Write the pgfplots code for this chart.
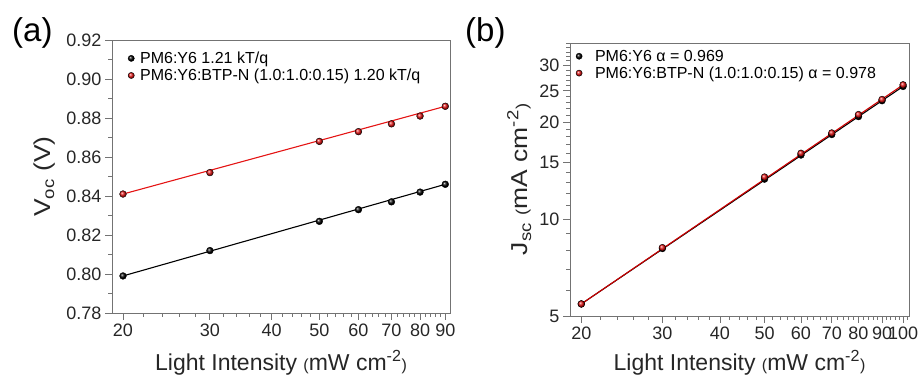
\documentclass[border=0pt]{standalone}
\usepackage{fontspec}
\setmainfont{Liberation Sans}
\usepackage{pgfplots}
\pgfplotsset{compat=1.18}
\definecolor{myred}{RGB}{228,20,20}
\definecolor{axgray}{RGB}{115,115,115}
\newcommand{\smp}[1]{{\fontsize{16}{16}\selectfont #1}}
\begin{document}
\begin{tikzpicture}[x=1pt,y=1pt]
\useasboundingbox (0,0) rectangle (918,379);
\pgfplotsset{
 common/.style={
  scale only axis,
  axis line style={axgray, line width=0.9pt},
  tick style={axgray, line width=0.8pt},
  tick align=outside,
  major tick length=7pt,
  minor tick length=4pt,
  xtick pos=left, ytick pos=left,
  tick label style={font=\fontsize{18}{18}\selectfont, text=black!85},
  label style={font=\fontsize{23}{23}\selectfont, text=black!85},
  legend style={draw=none, fill=none, font=\fontsize{16}{16}\selectfont, anchor=north west, row sep=0pt},
  legend cell align=left,
 }
}
\node[anchor=west, inner sep=0pt] at (12,346) {\fontsize{33}{33}\selectfont (a)};
\node[anchor=west, inner sep=0pt] at (465,346) {\fontsize{33}{33}\selectfont (b)};

\begin{axis}[common, at={(112pt,66pt)}, anchor=south west, width=338pt, height=273pt,
 xmode=log, xmin=19, xmax=92, ymin=0.78, ymax=0.92,
 xtick={20,30,40,50,60,70,80,90}, xticklabels={20,30,40,50,60,70,80,90},
 minor xtick={22,24,26,28,32,34,36,38,42,44,46,48,52,54,56,58,62,64,66,68,72,74,76,78,82,84,86,88},
 ytick={0.78,0.80,0.82,0.84,0.86,0.88,0.90,0.92},
 yticklabels={0.78,0.80,0.82,0.84,0.86,0.88,0.90,0.92},
 minor ytick={0.79,0.81,0.83,0.85,0.87,0.89,0.91},
 xlabel={Light Intensity \smp{(}mW cm\textsuperscript{-2}\smp{)}},
 ylabel={V\textsubscript{oc} (V)},
 xlabel style={at={(axis description cs:0.5,0)}, anchor=center, yshift=-50pt},
 ylabel style={at={(axis description cs:-0.2,0.5)}, anchor=center, xscale=1.15},
 legend style={at={(axis description cs:0.035,0.972)}},
 legend image code/.code={\path (0pt,0pt) (10.7pt,0pt); \draw[#1, mark size=3.1pt] plot coordinates {(4pt,0pt)};},
]
\addplot[black, line width=1.1pt, forget plot] coordinates {(20,0.799) (90,0.846)};
\addplot[myred, line width=1.1pt, forget plot] coordinates {(20,0.841) (90,0.886)};
\addplot[only marks, mark=ball, ball color=black, mark size=3.4pt] coordinates {
(20,0.799) (30,0.812) (50,0.827) (60,0.833) (70,0.837) (80,0.842) (90,0.846)};
\addlegendentry{PM6:Y6 1.21 kT/q}
\addplot[only marks, mark=ball, ball color=myred, mark size=3.4pt] coordinates {
(20,0.841) (30,0.852) (50,0.868) (60,0.873) (70,0.877) (80,0.881) (90,0.886)};
\addlegendentry{PM6:Y6:BTP-N (1.0:1.0:0.15) 1.20 kT/q}
\end{axis}

\begin{axis}[common, at={(570pt,63pt)}, anchor=south west, width=339pt, height=273pt,
 xmode=log, ymode=log, xmin=18.9, xmax=103, ymin=5, ymax=35.2,
 xtick={20,30,40,50,60,70,80,90,100}, xticklabels={20,30,40,50,60,70,80,90,100},
 minor xtick={22,24,26,28,32,34,36,38,42,44,46,48,52,54,56,58,62,64,66,68,72,74,76,78,82,84,86,88,92,94,96,98,102},
 ytick={5,10,15,20,25,30}, yticklabels={5,10,15,20,25,30},
 minor ytick={6,7,8,9,11,12,13,14,16,17,18,19,21,22,23,24,26,27,28,29,31,32,33,34,35},
 xlabel={Light Intensity \smp{(}mW cm\textsuperscript{-2}\smp{)}},
 ylabel={J\textsubscript{sc} \smp{(}mA cm\textsuperscript{-2}\smp{)}},
 xlabel style={at={(axis description cs:0.5,0)}, anchor=center, yshift=-47pt},
 ylabel style={at={(axis description cs:-0.15,0.5)}, anchor=center, xscale=1.15},
 legend style={at={(axis description cs:0.005,0.99)}},
 legend image code/.code={\path (0pt,0pt) (17.7pt,0pt); \draw[#1, mark size=3.1pt] plot coordinates {(4pt,0pt)};},
]
\addplot[black, line width=1.1pt, forget plot] coordinates {(20,5.45) (100,25.8)};
\addplot[red!80!black, line width=1.1pt, forget plot] coordinates {(20,5.45) (100,26.1)};
\addplot[only marks, mark=ball, ball color=black, mark size=3.4pt] coordinates {
(20,5.45) (30,8.1) (50,13.3) (60,15.8) (70,18.3) (80,20.8) (90,23.3) (100,25.8)};
\addlegendentry{PM6:Y6 α = 0.969}
\addplot[only marks, mark=ball, ball color=myred, mark size=3.4pt] coordinates {
(20,5.45) (30,8.15) (50,13.5) (60,16.0) (70,18.5) (80,21.1) (90,23.5) (100,26.1)};
\addlegendentry{PM6:Y6:BTP-N (1.0:1.0:0.15) α = 0.978}
\end{axis}
\end{tikzpicture}
\end{document}
